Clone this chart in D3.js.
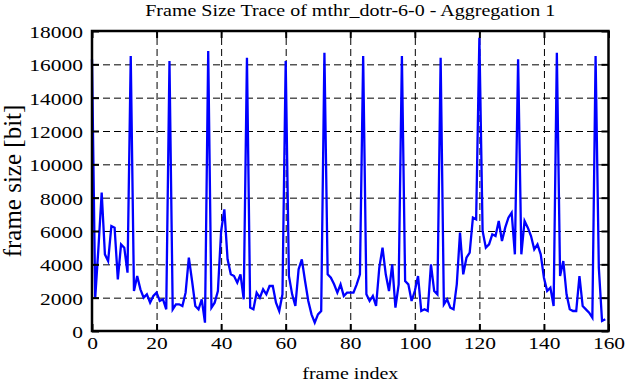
<!DOCTYPE html>
<html>
<head>
<meta charset="utf-8">
<script src="https://cdn.jsdelivr.net/npm/d3@7"></script>
<style>
  html, body { margin: 0; padding: 0; background: #fff; }
  svg { display: block; }
  svg text { font-family: "Liberation Serif", "DejaVu Serif", serif !important; fill: #000; }
</style>
</head>
<body>
<svg id="chart" width="626" height="382"></svg>
<script>
// ---- data ----
const frameSizes = [
  16300, 2000, 5000, 8300, 4600, 4200, 6300, 6200, 3100, 5200,
  5000, 3500, 16500, 2400, 3300, 2500, 2000, 2200, 1700, 2100,
  2300, 1800, 1900, 1300, 16200, 1300, 1600, 1600, 1500, 2300,
  4400, 3000, 1500, 1300, 1900, 500, 16800, 1400, 1700, 2400,
  6000, 7300, 4300, 3400, 3300, 2900, 3400, 1900, 16400, 1400,
  1300, 2300, 2000, 2500, 2200, 2700, 2700, 1700, 1200, 2200,
  16200, 3300, 2200, 1500, 3700, 4300, 3000, 1800, 1000, 500,
  1000, 1200, 16700, 3400, 3200, 2800, 2300, 2800, 2100, 2300,
  2300, 2300, 2800, 3400, 16500, 2200, 1800, 2100, 1500, 3800,
  5000, 3400, 2400, 4000, 1400, 2800, 16500, 3000, 2800, 1800,
  2400, 3300, 1200, 1300, 1200, 4000, 2400, 2200, 16400, 1600,
  1900, 1400, 1300, 2800, 5900, 3400, 4400, 4700, 6800, 6700,
  17600, 6000, 5000, 5200, 5800, 5700, 6600, 5400, 6200, 6800,
  7100, 4600, 16300, 4600, 6600, 6200, 5700, 4900, 5200, 4600,
  3200, 2400, 2600, 1500, 16700, 3300, 4200, 2200, 1300, 1200,
  1200, 3300, 1500, 1300, 1100, 800, 16500, 3800, 600, 700
];
const frameIndex = frameSizes.map((d, i) => i);
const xTickValues = [0, 20, 40, 60, 80, 100, 120, 140, 160];
const yTickValues = [0, 2000, 4000, 6000, 8000, 10000, 12000, 14000, 16000, 18000];
const titleText = "Frame Size Trace of mthr_dotr-6-0 - Aggregation 1";
const xLabel = "frame index";
const yLabel = "frame size [bit]";

// ---- layout ----
const svg = d3.select("#chart");
const pL = 92, pR = 608.5, pT = 31, pB = 331;
const fs = 20, tfs = 21.5, sy = 0.8;
const serif = '"Liberation Serif", "DejaVu Serif", serif';

const x = d3.scaleLinear().domain([0, 160]).range([pL, pR]);
const y = d3.scaleLinear().domain([0, 18000]).range([pB, pT]);

// grid
const gx = svg.append("g").attr("transform", `translate(0,${pB})`)
  .call(d3.axisBottom(x).tickValues(xTickValues.slice(1, -1)).tickSize(-(pB - pT)).tickFormat(""));
const gy = svg.append("g").attr("transform", `translate(${pL},0)`)
  .call(d3.axisLeft(y).tickValues(yTickValues.slice(1, -1)).tickSize(-(pR - pL)).tickFormat(""));
[gx, gy].forEach(g => {
  g.select(".domain").remove();
  g.selectAll("line").attr("stroke", "#000").attr("stroke-width", 1).attr("stroke-dasharray", "7,4");
});

// data line
const line = d3.line().x((d, i) => x(frameIndex[i])).y(d => y(d));
svg.append("path").datum(frameSizes)
  .attr("fill", "none").attr("stroke", "#0000ff").attr("stroke-width", 2.3)
  .attr("stroke-linejoin", "miter").attr("d", line);

// axes with inward ticks
const tick = 7;
const fmt = d3.format("d");
const axB = svg.append("g").attr("transform", `translate(0,${pB})`)
  .call(d3.axisBottom(x).tickValues(xTickValues).tickSizeInner(-tick).tickSizeOuter(0).tickFormat(fmt));
const axT = svg.append("g").attr("transform", `translate(0,${pT})`)
  .call(d3.axisTop(x).tickValues(xTickValues).tickSizeInner(-tick).tickSizeOuter(0).tickFormat(""));
const axL = svg.append("g").attr("transform", `translate(${pL},0)`)
  .call(d3.axisLeft(y).tickValues(yTickValues).tickSizeInner(-tick).tickSizeOuter(0).tickFormat(fmt));
const axR = svg.append("g").attr("transform", `translate(${pR},0)`)
  .call(d3.axisRight(y).tickValues(yTickValues).tickSizeInner(-tick).tickSizeOuter(0).tickFormat(""));
[axB, axT, axL, axR].forEach(g => {
  g.attr("font-family", serif).attr("font-size", tfs);
  g.select(".domain").remove();
  g.selectAll("line").attr("stroke", "#000").attr("stroke-width", 2);
});
axB.selectAll("text")
  .style("font-family", serif).style("font-size", tfs + "px")
  .attr("y", 18 / sy).attr("dy", 0).attr("transform", `scale(1,${sy})`);
axL.selectAll("text")
  .style("font-family", serif).style("font-size", tfs + "px")
  .attr("x", -9).attr("dy", "0.38em").attr("transform", `scale(1,${sy})`);

// border
svg.append("rect").attr("x", pL).attr("y", pT)
  .attr("width", pR - pL).attr("height", pB - pT)
  .attr("fill", "none").attr("stroke", "#000").attr("stroke-width", 2.5);

// titles
svg.append("text").attr("text-anchor", "middle").style("font-size", fs + "px")
  .attr("transform", `translate(${(pL + pR) / 2},15.5) scale(1,${sy})`)
  .text(titleText);
svg.append("text").attr("text-anchor", "middle").style("font-size", fs + "px")
  .attr("transform", `translate(${(pL + pR) / 2},379) scale(1,${sy})`)
  .text(xLabel);
svg.append("text").attr("text-anchor", "middle").style("font-size", "25px")
  .attr("transform", `translate(21,${(pT + pB) / 2}) rotate(-90)`)
  .text(yLabel);
</script>
</body>
</html>
